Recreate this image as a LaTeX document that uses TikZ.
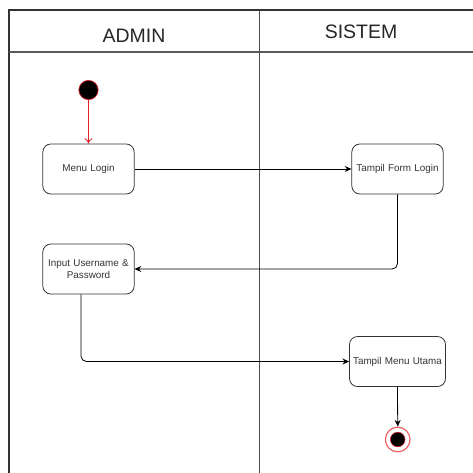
\documentclass[tikz,border=0pt]{standalone}
\usepackage{fontspec}
\setmainfont{Liberation Sans}
\usetikzlibrary{arrows.meta}
\definecolor{linegray}{HTML}{333333}
\definecolor{textgray}{HTML}{333333}
\definecolor{startred}{HTML}{E0202A}
\definecolor{endred}{HTML}{F06060}
\tikzset{
  lane/.style={draw=linegray, line width=0.9pt},
  actbox/.style={draw=linegray, line width=0.6pt, rounded corners=6pt,
    minimum width=68.5pt, minimum height=37.5pt, align=center,
    text width=66pt, inner sep=1pt, text=textgray,
    font=\fontsize{7.4pt}{9pt}\selectfont},
  lanehead/.style={font=\fontsize{14.6pt}{17pt}\selectfont, text=black!85, inner sep=0pt},
  flow/.style={draw=black, line width=0.6pt, -{Stealth[length=5pt,width=4.5pt]}},
  startflow/.style={draw=startred, line width=0.6pt, -{To[length=4pt,width=6pt]}},
}
\begin{document}
\begin{tikzpicture}[x=0.75pt,y=-0.75pt]
\useasboundingbox (0,0) rectangle (473,472);
\clip (0,0) rectangle (473,472);
% swimlane frame
\draw[lane] (9,480) -- (9,10) -- (480,10);
\draw[lane, draw=black!65] (9,52) -- (480,52);
\draw[lane, draw=black!70, line width=0.7pt] (259,10) -- (259,480);
\node[lanehead] (hadmin) at (134,36) {ADMIN};
\node[lanehead] (hsistem) at (361,32) {SISTEM};
% start and end states
\node[circle, fill=black, draw=startred, line width=0.5pt, minimum size=14.5pt, inner sep=0pt] (start) at (88.5,90) {};
\node[circle, fill=white, draw=endred, line width=0.9pt, minimum size=18.5pt, inner sep=0pt] (finish) at (397.7,439.5) {};
\node[circle, fill=black, draw=startred, line width=0.4pt, minimum size=11pt, inner sep=0pt] (finishdot) at (397.7,439.5) {};
% activities
\node[actbox] (login) at (88.5,169) {Menu Login};
\node[actbox] (form) at (397.5,169) {Tampil Form Login};
\node[actbox] (input) at (88.5,269) {Input Username \&\\Password};
\node[actbox, text width=70pt] (menu) at (397.5,361.5) {Tampil Menu Utama};
% transitions
\draw[startflow] (start) -- (login);
\draw[flow] (login) -- (form);
\draw[flow, rounded corners=4pt] (form.south) |- (input.east);
\draw[flow, rounded corners=4pt] ([xshift=-5.6pt]input.south) |- (menu.west);
\draw[flow] (menu.south) -- (finish.north);
\end{tikzpicture}
\end{document}
